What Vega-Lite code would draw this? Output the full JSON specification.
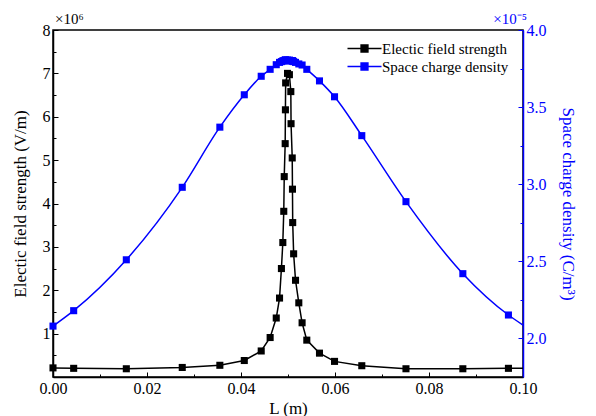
{
  "$schema": "https://vega.github.io/schema/vega-lite/v6.json",
  "width": 470,
  "height": 347,
  "autosize": {"type": "none"},
  "padding": {"left": 53, "top": 30, "right": 73, "bottom": 39},
  "config": {
    "font": "Liberation Serif",
    "view": {"stroke": "black", "strokeWidth": 1.5},
    "axis": {
      "grid": false,
      "labelFont": "Liberation Serif",
      "labelFontSize": 16,
      "titleFont": "Liberation Serif",
      "titleFontSize": 17,
      "titleFontWeight": "normal",
      "domainWidth": 1.5,
      "tickWidth": 1,
      "labelFlush": false,
      "labelOverlap": false
    },
    "axisX": {"domainColor": "black", "tickColor": "black", "labelColor": "black", "titleColor": "black", "labelPadding": 8, "titlePadding": 2},
    "axisLeft": {"domainColor": "black", "tickColor": "black", "labelColor": "black", "titleColor": "black", "labelPadding": 8, "titlePadding": 13},
    "axisRight": {"domainColor": "#0000FF", "tickColor": "#0000FF", "labelColor": "#0000FF", "titleColor": "#0000FF", "labelPadding": 8, "titlePadding": 12}
  },
  "datasets": {
    "E": [
      {"L": 0.0, "v": 0.21}, {"L": 0.0044, "v": 0.2}, {"L": 0.0156, "v": 0.19}, {"L": 0.0275, "v": 0.22},
      {"L": 0.0355, "v": 0.27}, {"L": 0.0407, "v": 0.38}, {"L": 0.0443, "v": 0.6}, {"L": 0.0462, "v": 0.91},
      {"L": 0.0475, "v": 1.36}, {"L": 0.0482, "v": 1.82}, {"L": 0.0486, "v": 2.5}, {"L": 0.0489, "v": 3.1},
      {"L": 0.0491, "v": 3.82}, {"L": 0.0492, "v": 4.62}, {"L": 0.0494, "v": 5.38}, {"L": 0.04945, "v": 6.16},
      {"L": 0.0495, "v": 6.78}, {"L": 0.0499, "v": 7.0}, {"L": 0.0503, "v": 6.97}, {"L": 0.0506, "v": 6.58},
      {"L": 0.05065, "v": 5.84}, {"L": 0.0509, "v": 5.05}, {"L": 0.05095, "v": 4.33}, {"L": 0.051, "v": 3.56},
      {"L": 0.0512, "v": 2.84}, {"L": 0.0516, "v": 2.23}, {"L": 0.0523, "v": 1.71}, {"L": 0.053, "v": 1.25},
      {"L": 0.054, "v": 0.85}, {"L": 0.0567, "v": 0.55}, {"L": 0.0599, "v": 0.36}, {"L": 0.0657, "v": 0.26},
      {"L": 0.0751, "v": 0.19}, {"L": 0.0872, "v": 0.19}, {"L": 0.0969, "v": 0.2}, {"L": 0.1, "v": 0.2}
    ],
    "R": [
      {"L": 0.0, "v": 2.08}, {"L": 0.0044, "v": 2.18}, {"L": 0.0156, "v": 2.51}, {"L": 0.0275, "v": 2.98},
      {"L": 0.0355, "v": 3.37}, {"L": 0.0407, "v": 3.58}, {"L": 0.0443, "v": 3.7}, {"L": 0.0462, "v": 3.745},
      {"L": 0.0475, "v": 3.775}, {"L": 0.0482, "v": 3.79}, {"L": 0.0486, "v": 3.795}, {"L": 0.0489, "v": 3.8},
      {"L": 0.0491, "v": 3.8}, {"L": 0.0492, "v": 3.8}, {"L": 0.0494, "v": 3.805}, {"L": 0.04945, "v": 3.805},
      {"L": 0.0495, "v": 3.805}, {"L": 0.0499, "v": 3.805}, {"L": 0.0503, "v": 3.805}, {"L": 0.0506, "v": 3.8},
      {"L": 0.05065, "v": 3.8}, {"L": 0.0509, "v": 3.8}, {"L": 0.05095, "v": 3.8}, {"L": 0.051, "v": 3.8},
      {"L": 0.0512, "v": 3.795}, {"L": 0.0516, "v": 3.79}, {"L": 0.0523, "v": 3.78}, {"L": 0.053, "v": 3.773},
      {"L": 0.054, "v": 3.745}, {"L": 0.0567, "v": 3.67}, {"L": 0.0599, "v": 3.567}, {"L": 0.0657, "v": 3.315},
      {"L": 0.0751, "v": 2.887}, {"L": 0.0872, "v": 2.42}, {"L": 0.0969, "v": 2.152}, {"L": 0.1, "v": 2.087}
    ],
    "expLeft": [{"L": 0.0, "v": 8, "t": "×10⁶"}],
    "expRight": [{"L": 0.1, "v": 8, "t": "×10⁻⁵"}]
  },
  "layer": [
    {
      "data": {"name": "E"},
      "encoding": {
        "x": {
          "field": "L", "type": "quantitative",
          "scale": {"domain": [0, 0.1], "nice": false, "zero": false},
          "axis": {
            "title": "L (m)",
            "values": [0, 0.01, 0.02, 0.03, 0.04, 0.05, 0.06, 0.07, 0.08, 0.09, 0.1],
            "labelExpr": "round(datum.value*100) % 2 == 0 ? format(datum.value, '.2f') : ''",
            "tickSize": {"condition": {"test": "round(datum.value*100) % 2 != 0", "value": -3}, "value": -5}
          }
        },
        "y": {
          "field": "v", "type": "quantitative",
          "scale": {"domain": [0, 8], "nice": false, "zero": false},
          "axis": {
            "orient": "left",
            "title": "Electic field strength (V/m)",
            "values": [0.5, 1, 1.5, 2, 2.5, 3, 3.5, 4, 4.5, 5, 5.5, 6, 6.5, 7, 7.5, 8],
            "labelExpr": "datum.value % 1 == 0 ? format(datum.value, 'd') : ''",
            "tickSize": {"condition": {"test": "datum.value % 1 != 0", "value": -3}, "value": -5}
          }
        }
      },
      "layer": [
        {
          "mark": {"type": "line", "strokeWidth": 1.5, "interpolate": "linear"},
          "encoding": {
            "color": {
              "datum": "Electic field strength",
              "scale": {"domain": ["Electic field strength", "Space charge density"], "range": ["#000000", "#0000FF"]},
              "legend": {
                "orient": "none", "legendX": 302, "legendY": 9, "title": null,
                "symbolType": "M-2,0L2,0M-0.4,-0.4L0.4,-0.4L0.4,0.4L-0.4,0.4Z",
                "symbolSize": 289, "symbolStrokeWidth": 1.5,
                "labelFont": "Liberation Serif", "labelFontSize": 15, "labelColor": "black",
                "labelOffset": 8, "rowPadding": 0,
                "encode": {"symbols": {"update": {"fill": {"scale": "color", "field": "value"}, "stroke": {"scale": "color", "field": "value"}}}}
              }
            }
          }
        },
        {
          "transform": [{"filter": "datum.L < 0.1"}],
          "mark": {"type": "point", "shape": "square", "filled": true, "size": 50, "opacity": 1},
          "encoding": {"color": {"datum": "Electic field strength"}}
        }
      ]
    },
    {
      "data": {"name": "R"},
      "encoding": {
        "x": {
          "field": "L", "type": "quantitative",
          "scale": {"domain": [0, 0.1], "nice": false, "zero": false},
          "axis": {
            "title": "L (m)",
            "values": [0, 0.01, 0.02, 0.03, 0.04, 0.05, 0.06, 0.07, 0.08, 0.09, 0.1],
            "labelExpr": "round(datum.value*100) % 2 == 0 ? format(datum.value, '.2f') : ''",
            "tickSize": {"condition": {"test": "round(datum.value*100) % 2 != 0", "value": -3}, "value": -5}
          }
        },
        "y": {
          "field": "v", "type": "quantitative",
          "scale": {"domain": [1.75, 4.0], "nice": false, "zero": false},
          "axis": {
            "orient": "right",
            "title": "Space charge density (C/m³)",
            "values": [2.0, 2.25, 2.5, 2.75, 3.0, 3.25, 3.5, 3.75, 4.0],
            "labelExpr": "(datum.value*2) % 1 == 0 ? format(datum.value, '.1f') : ''",
            "tickSize": {"condition": {"test": "(datum.value*2) % 1 != 0", "value": -3}, "value": -5}
          }
        }
      },
      "layer": [
        {
          "mark": {"type": "line", "strokeWidth": 1.5, "interpolate": "monotone"},
          "encoding": {"color": {"datum": "Space charge density"}}
        },
        {
          "transform": [{"filter": "datum.L < 0.1"}],
          "mark": {"type": "point", "shape": "square", "filled": true, "size": 50, "opacity": 1},
          "encoding": {"color": {"datum": "Space charge density"}}
        }
      ]
    },
    {
      "data": {"name": "expLeft"},
      "mark": {"type": "text", "align": "left", "baseline": "bottom", "dx": 2, "dy": -3, "fontSize": 15, "font": "Liberation Serif", "color": "#000000"},
      "encoding": {
        "x": {
          "field": "L", "type": "quantitative",
          "scale": {"domain": [0, 0.1], "nice": false, "zero": false},
          "axis": {
            "title": "L (m)",
            "values": [0, 0.01, 0.02, 0.03, 0.04, 0.05, 0.06, 0.07, 0.08, 0.09, 0.1],
            "labelExpr": "round(datum.value*100) % 2 == 0 ? format(datum.value, '.2f') : ''",
            "tickSize": {"condition": {"test": "round(datum.value*100) % 2 != 0", "value": -3}, "value": -5}
          }
        },
        "y": {"field": "v", "type": "quantitative", "scale": {"domain": [0, 8], "nice": false, "zero": false}, "axis": null},
        "text": {"field": "t"}
      }
    },
    {
      "data": {"name": "expRight"},
      "mark": {"type": "text", "align": "right", "baseline": "bottom", "dx": 4, "dy": -3, "fontSize": 15, "font": "Liberation Serif", "color": "#0000FF"},
      "encoding": {
        "x": {
          "field": "L", "type": "quantitative",
          "scale": {"domain": [0, 0.1], "nice": false, "zero": false},
          "axis": {
            "title": "L (m)",
            "values": [0, 0.01, 0.02, 0.03, 0.04, 0.05, 0.06, 0.07, 0.08, 0.09, 0.1],
            "labelExpr": "round(datum.value*100) % 2 == 0 ? format(datum.value, '.2f') : ''",
            "tickSize": {"condition": {"test": "round(datum.value*100) % 2 != 0", "value": -3}, "value": -5}
          }
        },
        "y": {"field": "v", "type": "quantitative", "scale": {"domain": [0, 8], "nice": false, "zero": false}, "axis": null},
        "text": {"field": "t"}
      }
    }
  ],
  "resolve": {"scale": {"y": "independent"}}
}
